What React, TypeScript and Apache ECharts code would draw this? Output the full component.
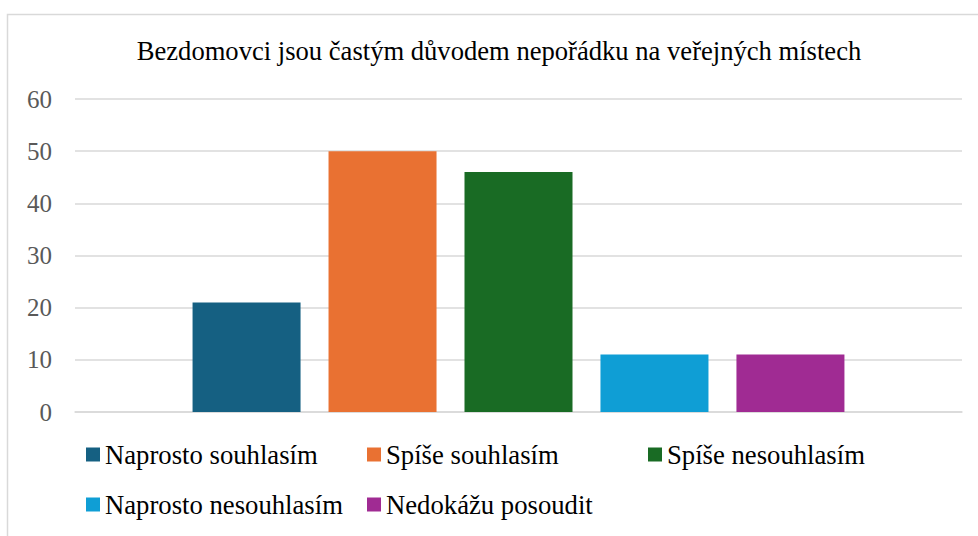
import React, { useEffect, useRef } from "react";
import * as echarts from "echarts";

const TITLE = "Bezdomovci jsou častým důvodem nepořádku na veřejných místech";
const SERIES_NAMES = [
  "Naprosto souhlasím",
  "Spíše souhlasím",
  "Spíše nesouhlasím",
  "Naprosto nesouhlasím",
  "Nedokážu posoudit",
];
const VALUES = [21, 50, 46, 11, 11];
const COLORS = ["#156082", "#E97132", "#196B24", "#0F9ED5", "#A02B93"];
const Y_MIN = 0;
const Y_MAX = 60;
const Y_INTERVAL = 10;

const FONT = "Liberation Serif";
const LEGEND_POS = [
  { left: 86, top: 441 },
  { left: 367, top: 441 },
  { left: 648, top: 441 },
  { left: 86, top: 491 },
  { left: 367, top: 491 },
];

export default function App() {
  const ref = useRef<HTMLDivElement>(null);
  useEffect(() => {
    if (!ref.current) return;
    const chart = echarts.init(ref.current, undefined, { renderer: "svg" });
    chart.setOption({
      animation: false,
      backgroundColor: "#ffffff",
      textStyle: { fontFamily: FONT },
      grid: { left: 75, right: 16, top: 99, bottom: 124, containLabel: false },
      xAxis: {
        type: "category",
        data: [""],
        axisLine: { show: true, lineStyle: { color: "#d9d9d9", width: 1.5 } },
        axisTick: { show: false },
        axisLabel: { show: false },
      },
      yAxis: {
        type: "value",
        min: Y_MIN,
        max: Y_MAX,
        interval: Y_INTERVAL,
        axisLine: { show: false },
        axisTick: { show: false },
        splitLine: { lineStyle: { color: "#d9d9d9", width: 1.5 } },
        axisLabel: { fontFamily: FONT, fontSize: 25, color: "#595959", margin: 23 },
      },
      legend: SERIES_NAMES.map((n, i) => ({
        data: [n],
        left: LEGEND_POS[i].left,
        top: LEGEND_POS[i].top,
        padding: 0,
        itemWidth: 14,
        itemHeight: 14,
        itemGap: 0,
        icon: "rect",
        selectedMode: false,
        textStyle: { fontFamily: FONT, fontSize: 26.7, lineHeight: 26, color: "#000000" },
      })),
      graphic: [
        {
          type: "rect",
          shape: { x: 7.5, y: 14.5, width: 1100, height: 700 },
          style: { fill: "none", stroke: "#d9d9d9", lineWidth: 1.5 },
          silent: true,
        },
        {
          type: "text",
          x: 499,
          y: 51,
          style: {
            text: TITLE,
            fontFamily: FONT,
            fontSize: 26.6,
            fill: "#000000",
            textAlign: "center",
            textVerticalAlign: "middle",
          },
        },
      ],
      series: SERIES_NAMES.map((n, i) => ({
        name: n,
        type: "bar",
        data: [VALUES[i]],
        barWidth: 108,
        barGap: "25.9%",
        itemStyle: { color: COLORS[i] },
      })),
    });
    return () => chart.dispose();
  }, []);
  return (
    <div
      ref={ref}
      style={{ position: "fixed", left: 0, top: 0, width: 978, height: 536 }}
    />
  );
}
